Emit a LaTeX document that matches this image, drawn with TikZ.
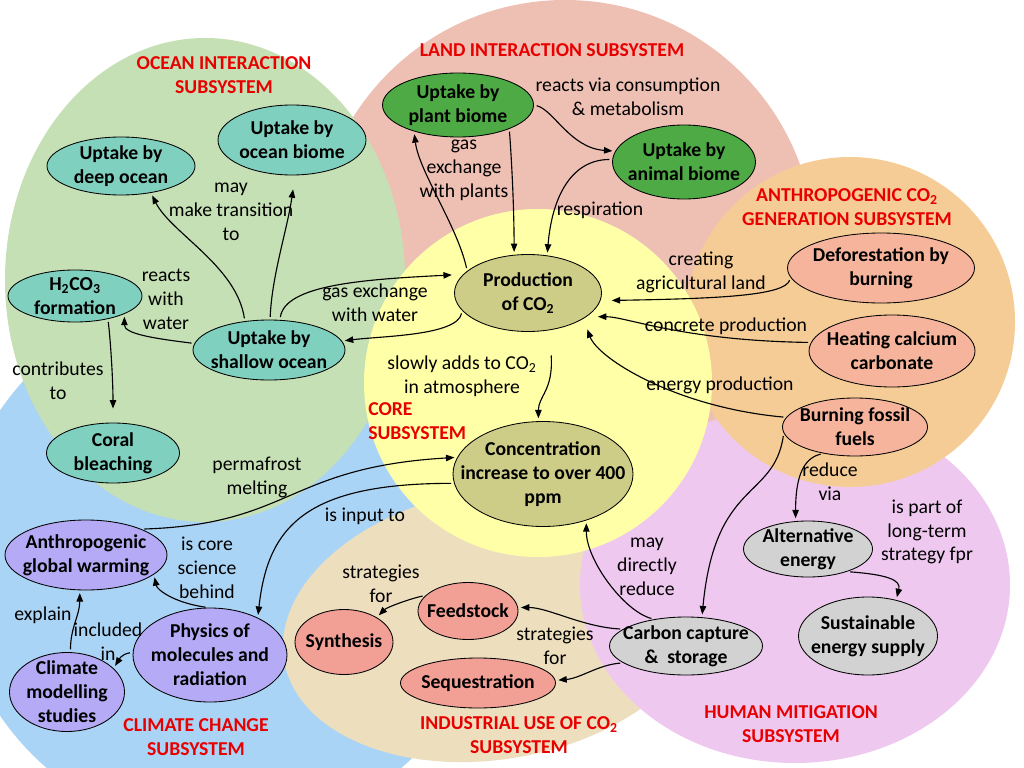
\documentclass[tikz,border=0pt]{standalone}
\usepackage{fontspec}
\setmainfont{Carlito}
\usepackage{tikz}
\usetikzlibrary{shapes.geometric,arrows.meta}

\newcommand{\mapsize}{\fontsize{14}{17}\selectfont}

% subsystem backgrounds
\definecolor{bgocean}{RGB}{197,224,180}
\definecolor{bgland}{RGB}{238,192,180}
\definecolor{bganthro}{RGB}{246,204,150}
\definecolor{bgcore}{RGB}{255,255,168}
\definecolor{bgclimate}{RGB}{170,212,245}
\definecolor{bgindustry}{RGB}{237,223,190}
\definecolor{bgmitig}{RGB}{239,200,240}
% concept fills
\definecolor{fillocean}{RGB}{128,208,192}
\definecolor{fillland}{RGB}{78,170,68}
\definecolor{fillcore}{RGB}{205,205,135}
\definecolor{fillanthro}{RGB}{245,180,155}
\definecolor{fillindustry}{RGB}{242,160,150}
\definecolor{fillmitig}{RGB}{210,210,210}
\definecolor{fillclimate}{RGB}{180,170,245}
\definecolor{titlered}{RGB}{232,0,0}

\begin{document}
\begin{tikzpicture}[
    x=0.025cm, y=-0.025cm,
    font=\mapsize,
    % concept bubble: fill, width, height, text
    concept/.style n args={4}{
        ellipse, draw=black, line width=0.6pt, fill=#1,
        minimum width=#2*0.025cm, minimum height=#3*0.025cm, inner sep=0pt,
        label={[font=\mapsize\bfseries, align=center, inner sep=0pt]center:#4}
    },
    % text on the links
    linktext/.style={align=center, inner sep=0pt},
    % red subsystem names
    subtitle/.style={align=center, inner sep=0pt, text=titlered, font=\mapsize\bfseries},
    % connectors
    flow/.style={-{Triangle[length=6pt,width=4.6pt]}, line width=0.8pt, shorten >=2pt, shorten <=2pt}
]
    \useasboundingbox (0,0) rectangle (1024,768);
    \clip (0,0) rectangle (1024,768);
    \fill[white] (0,0) rectangle (1024,768);

    % --- subsystem areas ---
    \fill[bgclimate] (224,563) circle [radius=271*0.025cm];
    \fill[bgland] (565,250) circle [radius=250*0.025cm];
    \fill[bgocean] (205,280) ellipse [x radius=200*0.025cm, y radius=242*0.025cm];
    \fill[bgindustry, rotate around={10:(496,624)}] (496,624) ellipse [x radius=215*0.025cm, y radius=135*0.025cm];
    \fill[bgmitig] (795,585) ellipse [x radius=215*0.025cm, y radius=178*0.025cm];
    \fill[bganthro] (850,322) circle [radius=165*0.025cm];
    \fill[bgcore] (538,383) circle [radius=174*0.025cm];

    % --- subsystem names ---
    \node[subtitle] (tocean) at (224,75) {OCEAN INTERACTION\\SUBSYSTEM};
    \node[subtitle] (tland) at (552,50) {LAND INTERACTION SUBSYSTEM};
    \node[subtitle] (tanthro) at (847,207) {ANTHROPOGENIC CO\textsubscript{2}\\GENERATION SUBSYSTEM};
    \node[subtitle, align=left, anchor=west] (tcore) at (368,421) {CORE\\SUBSYSTEM};
    \node[subtitle] (tclimate) at (196,737) {CLIMATE CHANGE\\SUBSYSTEM};
    \node[subtitle] (tindustry) at (519,735) {INDUSTRIAL USE OF CO\textsubscript{2}\\SUBSYSTEM};
    \node[subtitle] (tmitig) at (791,724) {HUMAN MITIGATION\\SUBSYSTEM};

    % --- ocean ---
    \node[concept={fillocean}{148}{58}{Uptake by\\deep ocean}] (deep) at (121,166) {};
    \node[concept={fillocean}{148}{70}{Uptake by\\ocean biome}] (obiome) at (292,140) {};
    \node[concept={fillocean}{134}{52}{H\textsubscript{2}CO\textsubscript{3}\\formation}] (h2co3) at (75,296) {};
    \node[concept={fillocean}{152}{60}{Uptake by\\shallow ocean}] (shallow) at (269,350) {};
    \node[concept={fillocean}{133}{60}{Coral\\bleaching}] (coral) at (113,453) {};

    % --- land ---
    \node[concept={fillland}{151}{64}{Uptake by\\plant biome}] (plant) at (458,105) {};
    \node[concept={fillland}{143}{74}{Uptake by\\animal biome}] (animal) at (684,162) {};

    % --- core ---
    \node[concept={fillcore}{147}{77}{Production\\of CO\textsubscript{2}}] (prod) at (528,293) {};
    \node[concept={fillcore}{180}{105}{Concentration\\increase to over 400\\ppm}] (conc) at (543,474) {};

    % --- anthropogenic generation ---
    \node[concept={fillanthro}{187}{70}{Deforestation by\\burning}] (defor) at (881,268) {};
    \node[concept={fillanthro}{166}{72}{Heating calcium\\carbonate}] (heat) at (892,351) {};
    \node[concept={fillanthro}{145}{58}{Burning fossil\\fuels}] (fossil) at (855,427) {};

    % --- mitigation ---
    \node[concept={fillmitig}{129}{56}{Alternative\\energy}] (alt) at (808,549) {};
    \node[concept={fillmitig}{139}{78}{Sustainable\\energy supply}] (sust) at (868,636) {};
    \node[concept={fillmitig}{153}{58}{Carbon capture\\\&~ storage}] (ccs) at (686,646) {};

    % --- industrial use ---
    \node[concept={fillindustry}{100}{57}{Feedstock}] (feed) at (468,611) {};
    \node[concept={fillindustry}{98}{65}{Synthesis}] (synth) at (344,642) {};
    \node[concept={fillindustry}{155}{50}{Sequestration}] (seq) at (478,683) {};

    % --- climate change ---
    \node[concept={fillclimate}{162}{70}{Anthropogenic\\global warming}] (agw) at (86,555) {};
    \node[concept={fillclimate}{154}{94}{Physics of\\molecules and\\radiation}] (phys) at (210,655) {};
    \node[concept={fillclimate}{115}{79}{Climate\\modelling\\studies}] (cms) at (67,692) {};

    % --- link texts ---
    \node[linktext] (lmay) at (231,212) {may\\make transition\\to};
    \node[linktext] (lreacts) at (166,299) {reacts\\with\\water};
    \node[linktext] (lgaswater) at (375,303) {gas exchange\\with water};
    \node[linktext] (lcontrib) at (58,381) {contributes\\to};
    \node[linktext] (lconsume) at (628,97) {reacts via consumption\\\& metabolism};
    \node[linktext] (lgasplant) at (464,170) {gas\\exchange\\with plants};
    \node[linktext] (lresp) at (600,210) {respiration};
    \node[linktext] (lagri) at (701,272) {creating\\agricultural land};
    \node[linktext] (lconcrete) at (726,326) {concrete production};
    \node[linktext] (lenergy) at (720,385) {energy production};
    \node[linktext] (lslowly) at (462,376) {slowly adds to CO\textsubscript{2}\\in atmosphere};
    \node[linktext] (lperma) at (257,477) {permafrost\\melting};
    \node[linktext] (linput) at (365,516) {is input to};
    \node[linktext] (lcore) at (207,568) {is core\\science\\behind};
    \node[linktext] (lexplain) at (43,615) {explain};
    \node[linktext] (lincl) at (108,642) {included\\in};
    \node[linktext] (lstrat1) at (381,584) {strategies\\for};
    \node[linktext] (lstrat2) at (555,646) {strategies\\for};
    \node[linktext] (ldirect) at (647,567) {may\\directly\\reduce};
    \node[linktext] (lreduce) at (830,482) {reduce\\via};
    \node[linktext] (lpart) at (927,532) {is part of\\long-term\\strategy fpr};

    % --- connectors: ocean ---
    \draw[flow] (shallow.130) .. controls +(-8,-55) and +(20,40) .. (deep.-42);
    \draw[flow, shorten >=10pt] (shallow.88) .. controls +(2,-45) and +(-8,55) .. (obiome.-85);
    \draw[flow, shorten >=8pt] (shallow.70) .. controls +(5,-35) and +(-100,5) .. (prod.164);
    \draw[flow] (prod.195) .. controls +(-5,25) and +(40,-5) .. (shallow.7);
    \draw[flow] (shallow.175) .. controls +(-40,-5) and +(0,20) .. (h2co3.-20);
    \draw[flow, shorten >=10pt] (h2co3.-35) .. controls +(3,25) and +(0,-40) .. (coral.90);

    % --- connectors: land ---
    \draw[flow] (plant.0) .. controls +(20,5) and +(-45,-3) .. (animal.171);
    \draw[flow] (prod.160) .. controls +(-10,-45) and +(5,40) .. (plant.211);
    \draw[flow] (plant.-25) .. controls +(3,40) and +(0,-40) .. (prod.110);
    \draw[flow] (animal.178) .. controls +(-40,0) and +(5,-60) .. (prod.63);

    % --- connectors: anthropogenic generation ---
    \draw[flow, shorten >=8pt] (defor.186) .. controls +(-6,18) and +(120,-2) .. (prod.-6);
    \draw[flow, shorten >=8pt] (heat.174) .. controls +(-130,-2) and +(40,0) .. (prod.-22);
    \draw[flow, shorten >=8pt] (fossil.172) .. controls +(-110,-10) and +(15,40) .. (prod.-25);

    % --- connectors: core and climate ---
    \draw[flow, shorten <=18pt] (prod.-60) .. controls +(4,60) and +(0,-25) .. (conc.95);
    \draw[flow] (agw.25) .. controls +(150,-5) and +(-170,10) .. (conc.169);
    \draw[flow] (conc.186) .. controls +(-150,0) and +(10,-90) .. (phys.38);
    \draw[flow] (phys.92) .. controls +(-35,-5) and +(3,15) .. (agw.-16);
    \draw[flow] (cms.85) .. controls +(0,-25) and +(0,25) .. (agw.-100);
    \draw[flow] (phys.178) .. controls +(-12,2) and +(5,-8) .. (cms.27);

    % --- connectors: mitigation and industrial use ---
    \draw[flow] (fossil.220) .. controls +(-22,5) and +(0,-40) .. (alt.114);
    \draw[flow] (fossil.185) .. controls +(-10,67) and +(13,-138) .. (ccs.61);
    \draw[flow] (alt.-30) .. controls +(40,3) and +(5,-20) .. (sust.52);
    \draw[flow] (ccs.140) .. controls +(-30,-8) and +(0,40) .. (conc.-47);
    \draw[flow] (ccs.165) .. controls +(-40,-2) and +(30,0) .. (feed.4);
    \draw[flow] (ccs.195) .. controls +(-25,2) and +(25,-2) .. (seq.2);
    \draw[flow] (feed.160) .. controls +(-15,3) and +(10,-10) .. (synth.37);
\end{tikzpicture}
\end{document}
